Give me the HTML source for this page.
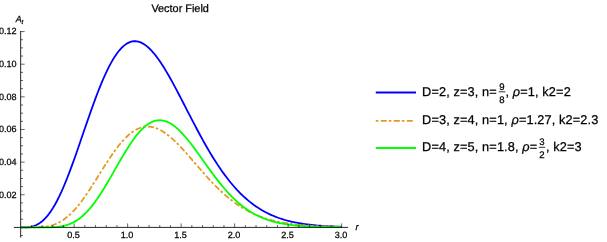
<!DOCTYPE html>
<html><head><meta charset="utf-8"><style>
html,body{margin:0;padding:0;background:#fff;}
body{width:607px;height:242px;overflow:hidden;}
svg{display:block;font-family:"Liberation Sans",sans-serif;}
</style></head><body>
<svg width="607" height="242" viewBox="0 0 607 242">
<rect width="607" height="242" fill="#fff"/>
<g fill="none" stroke-linejoin="round">
<path d="M20.85,227.40 L22.99,227.39 L25.13,227.35 L27.26,227.24 L29.40,227.00 L31.54,226.61 L33.68,226.03 L35.82,225.22 L37.95,224.16 L40.09,222.83 L42.23,221.19 L44.37,219.24 L46.51,216.96 L48.64,214.34 L50.78,211.38 L52.92,208.08 L55.06,204.45 L57.20,200.48 L59.33,196.21 L61.47,191.63 L63.61,186.76 L65.75,181.64 L67.89,176.27 L70.02,170.69 L72.16,164.92 L74.30,159.00 L76.44,152.94 L78.58,146.79 L80.71,140.58 L82.85,134.33 L84.99,128.08 L87.13,121.86 L89.27,115.70 L91.40,109.64 L93.54,103.69 L95.68,97.90 L97.82,92.28 L99.96,86.87 L102.09,81.68 L104.23,76.74 L106.37,72.06 L108.51,67.68 L110.65,63.59 L112.78,59.82 L114.92,56.39 L117.06,53.29 L119.20,50.53 L121.34,48.13 L123.47,46.09 L125.61,44.40 L127.75,43.07 L129.89,42.10 L132.03,41.47 L134.16,41.20 L136.30,41.26 L138.44,41.66 L140.58,42.38 L142.72,43.41 L144.85,44.74 L146.99,46.36 L149.13,48.25 L151.27,50.39 L153.41,52.79 L155.54,55.41 L157.68,58.24 L159.82,61.27 L161.96,64.48 L164.10,67.85 L166.23,71.37 L168.37,75.03 L170.51,78.80 L172.65,82.66 L174.79,86.62 L176.92,90.64 L179.06,94.72 L181.20,98.84 L183.34,102.98 L185.48,107.14 L187.61,111.31 L189.75,115.46 L191.89,119.60 L194.03,123.70 L196.17,127.76 L198.30,131.78 L200.44,135.74 L202.58,139.63 L204.72,143.46 L206.86,147.21 L208.99,150.87 L211.13,154.45 L213.27,157.93 L215.41,161.33 L217.55,164.62 L219.68,167.81 L221.82,170.90 L223.96,173.89 L226.10,176.77 L228.24,179.54 L230.37,182.21 L232.51,184.78 L234.65,187.24 L236.79,189.60 L238.93,191.85 L241.06,194.01 L243.20,196.06 L245.34,198.02 L247.48,199.88 L249.62,201.65 L251.75,203.33 L253.89,204.92 L256.03,206.43 L258.17,207.86 L260.31,209.20 L262.44,210.48 L264.58,211.67 L266.72,212.80 L268.86,213.86 L271.00,214.85 L273.13,215.78 L275.27,216.66 L277.41,217.47 L279.55,218.24 L281.69,218.95 L283.82,219.62 L285.96,220.24 L288.10,220.81 L290.24,221.35 L292.38,221.85 L294.51,222.31 L296.65,222.73 L298.79,223.13 L300.93,223.50 L303.07,223.83 L305.20,224.15 L307.34,224.43 L309.48,224.70 L311.62,224.94 L313.76,225.16 L315.89,225.37 L318.03,225.56 L320.17,225.73 L322.31,225.89 L324.45,226.03 L326.58,226.16 L328.72,226.28 L330.86,226.39 L333.00,226.49 L335.14,226.58 L337.27,226.66 L339.41,226.74 L341.55,226.81" stroke="#0000ff" stroke-width="1.8"/>
<path d="M20.85,227.40 L22.99,227.40 L25.13,227.40 L27.26,227.40 L29.40,227.40 L31.54,227.39 L33.68,227.37 L35.82,227.33 L37.95,227.27 L40.09,227.17 L42.23,227.02 L44.37,226.80 L46.51,226.50 L48.64,226.11 L50.78,225.61 L52.92,224.99 L55.06,224.23 L57.20,223.33 L59.33,222.27 L61.47,221.04 L63.61,219.65 L65.75,218.08 L67.89,216.34 L70.02,214.41 L72.16,212.32 L74.30,210.05 L76.44,207.62 L78.58,205.04 L80.71,202.31 L82.85,199.44 L84.99,196.45 L87.13,193.35 L89.27,190.15 L91.40,186.88 L93.54,183.54 L95.68,180.16 L97.82,176.75 L99.96,173.34 L102.09,169.93 L104.23,166.55 L106.37,163.21 L108.51,159.93 L110.65,156.73 L112.78,153.63 L114.92,150.64 L117.06,147.77 L119.20,145.04 L121.34,142.47 L123.47,140.06 L125.61,137.82 L127.75,135.77 L129.89,133.91 L132.03,132.25 L134.16,130.80 L136.30,129.56 L138.44,128.53 L140.58,127.72 L142.72,127.12 L144.85,126.74 L146.99,126.56 L149.13,126.60 L151.27,126.85 L153.41,127.29 L155.54,127.93 L157.68,128.76 L159.82,129.77 L161.96,130.95 L164.10,132.28 L166.23,133.78 L168.37,135.41 L170.51,137.17 L172.65,139.06 L174.79,141.05 L176.92,143.14 L179.06,145.32 L181.20,147.57 L183.34,149.89 L185.48,152.26 L187.61,154.67 L189.75,157.12 L191.89,159.58 L194.03,162.06 L196.17,164.55 L198.30,167.03 L200.44,169.49 L202.58,171.94 L204.72,174.36 L206.86,176.74 L208.99,179.08 L211.13,181.38 L213.27,183.63 L215.41,185.82 L217.55,187.95 L219.68,190.02 L221.82,192.03 L223.96,193.97 L226.10,195.84 L228.24,197.64 L230.37,199.38 L232.51,201.04 L234.65,202.63 L236.79,204.15 L238.93,205.60 L241.06,206.98 L243.20,208.30 L245.34,209.54 L247.48,210.72 L249.62,211.84 L251.75,212.90 L253.89,213.90 L256.03,214.84 L258.17,215.72 L260.31,216.55 L262.44,217.33 L264.58,218.06 L266.72,218.74 L268.86,219.38 L271.00,219.98 L273.13,220.54 L275.27,221.06 L277.41,221.54 L279.55,221.99 L281.69,222.41 L283.82,222.79 L285.96,223.15 L288.10,223.48 L290.24,223.79 L292.38,224.08 L294.51,224.34 L296.65,224.58 L298.79,224.81 L300.93,225.02 L303.07,225.21 L305.20,225.38 L307.34,225.54 L309.48,225.69 L311.62,225.83 L313.76,225.95 L315.89,226.07 L318.03,226.18 L320.17,226.27 L322.31,226.36 L324.45,226.45 L326.58,226.52 L328.72,226.59 L330.86,226.65 L333.00,226.71 L335.14,226.76 L337.27,226.81 L339.41,226.86 L341.55,226.90" stroke="#e19c24" stroke-width="1.8" stroke-dasharray="2.6 2.4 6.0 2.0" stroke-dashoffset="0.8"/>
<path d="M20.85,227.40 L22.99,227.40 L25.13,227.40 L27.26,227.40 L29.40,227.40 L31.54,227.40 L33.68,227.40 L35.82,227.40 L37.95,227.40 L40.09,227.40 L42.23,227.39 L44.37,227.38 L46.51,227.35 L48.64,227.31 L50.78,227.25 L52.92,227.16 L55.06,227.03 L57.20,226.84 L59.33,226.59 L61.47,226.26 L63.61,225.84 L65.75,225.31 L67.89,224.66 L70.02,223.88 L72.16,222.95 L74.30,221.86 L76.44,220.60 L78.58,219.17 L80.71,217.55 L82.85,215.75 L84.99,213.76 L87.13,211.57 L89.27,209.21 L91.40,206.65 L93.54,203.92 L95.68,201.03 L97.82,197.97 L99.96,194.77 L102.09,191.44 L104.23,187.99 L106.37,184.45 L108.51,180.82 L110.65,177.13 L112.78,173.40 L114.92,169.65 L117.06,165.90 L119.20,162.17 L121.34,158.49 L123.47,154.87 L125.61,151.34 L127.75,147.91 L129.89,144.61 L132.03,141.46 L134.16,138.48 L136.30,135.67 L138.44,133.06 L140.58,130.67 L142.72,128.50 L144.85,126.56 L146.99,124.87 L149.13,123.44 L151.27,122.26 L153.41,121.35 L155.54,120.70 L157.68,120.32 L159.82,120.21 L161.96,120.36 L164.10,120.76 L166.23,121.42 L168.37,122.33 L170.51,123.47 L172.65,124.83 L174.79,126.41 L176.92,128.19 L179.06,130.15 L181.20,132.29 L183.34,134.58 L185.48,137.02 L187.61,139.58 L189.75,142.25 L191.89,145.02 L194.03,147.86 L196.17,150.77 L198.30,153.72 L200.44,156.71 L202.58,159.71 L204.72,162.72 L206.86,165.71 L208.99,168.68 L211.13,171.63 L213.27,174.52 L215.41,177.36 L217.55,180.14 L219.68,182.85 L221.82,185.49 L223.96,188.04 L226.10,190.50 L228.24,192.87 L230.37,195.15 L232.51,197.33 L234.65,199.41 L236.79,201.40 L238.93,203.28 L241.06,205.06 L243.20,206.75 L245.34,208.34 L247.48,209.84 L249.62,211.24 L251.75,212.55 L253.89,213.78 L256.03,214.93 L258.17,215.99 L260.31,216.98 L262.44,217.90 L264.58,218.74 L266.72,219.53 L268.86,220.25 L271.00,220.91 L273.13,221.52 L275.27,222.08 L277.41,222.59 L279.55,223.05 L281.69,223.48 L283.82,223.86 L285.96,224.22 L288.10,224.53 L290.24,224.82 L292.38,225.09 L294.51,225.32 L296.65,225.54 L298.79,225.73 L300.93,225.90 L303.07,226.06 L305.20,226.20 L307.34,226.33 L309.48,226.44 L311.62,226.54 L313.76,226.63 L315.89,226.72 L318.03,226.79 L320.17,226.85 L322.31,226.91 L324.45,226.97 L326.58,227.01 L328.72,227.05 L330.86,227.09 L333.00,227.12 L335.14,227.15 L337.27,227.18 L339.41,227.20 L341.55,227.22" stroke="#00ff00" stroke-width="1.8"/>
</g>
<g stroke="#000" stroke-width="0.7" fill="none">
<path d="M13.9,227.4H348.1" stroke-width="0.85"/>
<path d="M20.65,237.6V31.0" stroke-width="0.85"/>
<path d="M31.35,227.40v-2.4M42.05,227.40v-2.4M52.75,227.40v-2.4M63.45,227.40v-2.4M74.15,227.40v-4M84.85,227.40v-2.4M95.55,227.40v-2.4M106.25,227.40v-2.4M116.95,227.40v-2.4M127.65,227.40v-4M138.35,227.40v-2.4M149.05,227.40v-2.4M159.75,227.40v-2.4M170.45,227.40v-2.4M181.15,227.40v-4M191.85,227.40v-2.4M202.55,227.40v-2.4M213.25,227.40v-2.4M223.95,227.40v-2.4M234.65,227.40v-4M245.35,227.40v-2.4M256.05,227.40v-2.4M266.75,227.40v-2.4M277.45,227.40v-2.4M288.15,227.40v-4M298.85,227.40v-2.4M309.55,227.40v-2.4M320.25,227.40v-2.4M330.95,227.40v-2.4M341.65,227.40v-4M20.65,235.56h2.4M20.65,219.24h2.4M20.65,211.08h2.4M20.65,202.92h2.4M20.65,194.76h4M20.65,186.60h2.4M20.65,178.44h2.4M20.65,170.28h2.4M20.65,162.12h4M20.65,153.96h2.4M20.65,145.80h2.4M20.65,137.64h2.4M20.65,129.48h4M20.65,121.32h2.4M20.65,113.16h2.4M20.65,105.00h2.4M20.65,96.84h4M20.65,88.68h2.4M20.65,80.52h2.4M20.65,72.36h2.4M20.65,64.20h4M20.65,56.04h2.4M20.65,47.88h2.4M20.65,39.72h2.4M20.65,31.56h4" stroke-width="0.6"/>
</g>
<g style="will-change:transform" text-rendering="geometricPrecision" stroke="#000" stroke-width="0.25">
<g font-size="9.05px" fill="#000"><text x="73.45" y="237.7" text-anchor="middle">0.5</text><text x="126.95" y="237.7" text-anchor="middle">1.0</text><text x="180.45" y="237.7" text-anchor="middle">1.5</text><text x="233.95" y="237.7" text-anchor="middle">2.0</text><text x="287.45" y="237.7" text-anchor="middle">2.5</text><text x="340.95" y="237.7" text-anchor="middle">3.0</text><text x="16.6" y="197.61" text-anchor="end">0.02</text><text x="16.6" y="164.97" text-anchor="end">0.04</text><text x="16.6" y="132.33" text-anchor="end">0.06</text><text x="16.6" y="99.69" text-anchor="end">0.08</text><text x="16.6" y="67.05" text-anchor="end">0.10</text><text x="16.6" y="34.41" text-anchor="end">0.12</text></g>
<text x="180.15" y="11.65" font-size="10.9px" text-anchor="middle" fill="#000">Vector Field</text>
<text x="15.7" y="21.9" font-size="8.9px" font-style="italic" fill="#000">A<tspan font-size="6.4px" dy="1.9">t</tspan></text>
<text x="355.4" y="229.7" font-size="9.2px" font-style="italic" fill="#000">r</text>
<g fill="none" stroke-width="1.9">
<path d="M375.8,92.45H416" stroke="#0000ff"/>
<path d="M375.8,120.85H412.9" stroke="#e19c24" stroke-dasharray="2.6 2.4 6.0 2.0"/>
<path d="M375.8,148.05H416" stroke="#00ff00"/>
</g>
<g font-size="12.75px" fill="#000" letter-spacing="0.12">
<text x="422.1" y="95.5">D=2, z=3, n=</text>
<text x="502" y="89.7" font-size="9.6px" text-anchor="middle" letter-spacing="0">9</text>
<text x="502" y="102.7" font-size="9.6px" text-anchor="middle" letter-spacing="0">8</text>
<path d="M498.8,91.8H505.3" stroke="#000" stroke-width="0.8"/>
<text x="505.5" y="95.5">, <tspan font-style="italic">ρ</tspan>=1, k2=2</text>
<text x="422.1" y="123.8">D=3, z=4, n=1, <tspan font-style="italic">ρ</tspan>=1.27, k2=2.3</text>
<text x="422.1" y="151.0">D=4, z=5, n=1.8, <tspan font-style="italic">ρ</tspan>=</text>
<text x="541.9" y="145.2" font-size="9.6px" text-anchor="middle" letter-spacing="0">3</text>
<text x="541.9" y="158.2" font-size="9.6px" text-anchor="middle" letter-spacing="0">2</text>
<path d="M538.8,147.3H545.1" stroke="#000" stroke-width="0.8"/>
<text x="545.9" y="151.0">, k2=3</text>
</g>
</g>
</svg>
</body></html>
